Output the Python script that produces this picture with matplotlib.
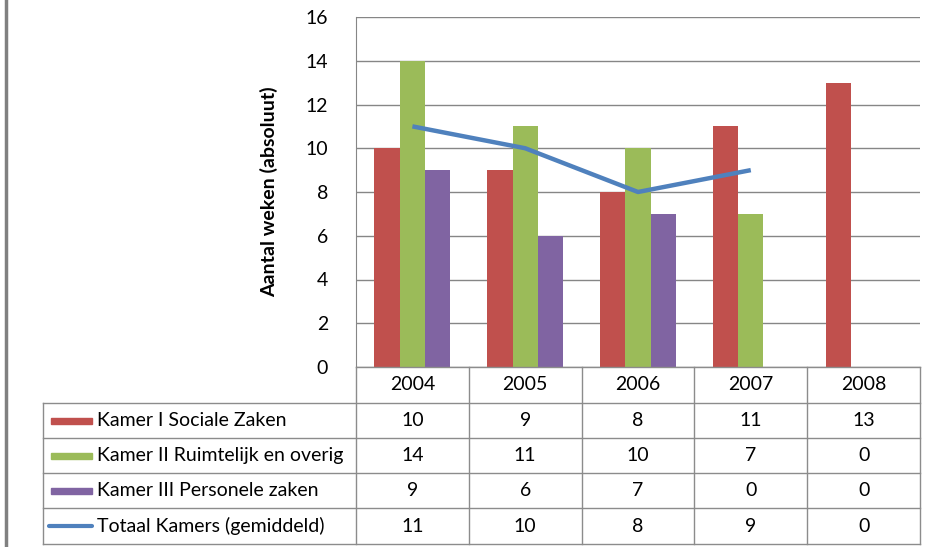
import numpy as np
import matplotlib.pyplot as plt
from matplotlib.lines import Line2D
from matplotlib.patches import Rectangle

years = ["2004", "2005", "2006", "2007", "2008"]
kamer1 = [10, 9, 8, 11, 13]
kamer2 = [14, 11, 10, 7, 0]
kamer3 = [9, 6, 7, 0, 0]
totaal = [11, 10, 8, 9, 0]
totaal_drawn = 4  # line stops at 2007

labels = ["Kamer I Sociale Zaken",
          "Kamer II Ruimtelijk en overig",
          "Kamer III Personele zaken",
          "Totaal Kamers (gemiddeld)"]
colors = ["#C0504D", "#9BBB59", "#8064A2", "#4F81BD"]

W, H = 928, 547
FS = 14
plt.rcParams['font.family'] = ['Lato', 'DejaVu Sans']

fig = plt.figure(figsize=(W / 100, H / 100), dpi=100)


def fx(x):
    return x / W


def fy(y):
    return 1 - y / H


# plot area in pixels
left, right, top, bottom = 356, 920, 17, 367
ax = fig.add_axes([fx(left), fy(bottom), fx(right - left), (bottom - top) / H])

x = np.arange(len(years))
bw = 0.225
for i, (vals, c) in enumerate(zip([kamer1, kamer2, kamer3], colors)):
    ax.bar(x + (i - 1) * bw, vals, width=bw, color=c, zorder=3)

ax.plot(x[:totaal_drawn], totaal[:totaal_drawn], color=colors[3], lw=3.2,
        zorder=4, solid_capstyle='butt')

ax.set_xlim(-0.5, len(years) - 0.5)
ax.set_ylim(0, 16)
ax.set_yticks(range(0, 17, 2))
ax.set_xticks([])
ax.tick_params(axis='y', length=0, pad=20, labelsize=FS)
ax.grid(axis='y', color='#868686', lw=1, zorder=0)
for s in ['top', 'right', 'bottom']:
    ax.spines[s].set_visible(False)
ax.spines['left'].set_color('#868686')
ax.set_ylabel("Aantal weken (absoluut)", fontsize=FS, fontweight='bold',
              labelpad=20)

# data table below the plot
gray = '#8C8C8C'
tbl_left, tbl_right = 43, 920
row_lines = [367, 403, 438, 473, 508, 544]
col_w = (right - left) / len(years)
col_lines = [left + k * col_w for k in range(len(years) + 1)]


def hline(y, x0, x1, c=gray):
    fig.add_artist(Line2D([fx(x0), fx(x1)], [fy(y), fy(y)], color=c, lw=1))


def vline(xp, y0, y1, c=gray):
    fig.add_artist(Line2D([fx(xp), fx(xp)], [fy(y0), fy(y1)], color=c, lw=1))


hline(row_lines[0], left, right)
for y in row_lines[1:]:
    hline(y, tbl_left, tbl_right)
vline(tbl_left, row_lines[1], row_lines[-1])
vline(left, row_lines[0], row_lines[-1])
for xp in col_lines[1:]:
    vline(xp, row_lines[0], row_lines[-1])

# header (years)
for k, yr in enumerate(years):
    fig.text(fx(left + (k + 0.5) * col_w), fy((row_lines[0] + row_lines[1]) / 2),
             yr, ha='center', va='center', fontsize=FS)

rows = [kamer1, kamer2, kamer3, totaal]
for r, (lab, vals, c) in enumerate(zip(labels, rows, colors)):
    yc = (row_lines[r + 1] + row_lines[r + 2]) / 2
    if r < 3:
        fig.add_artist(Rectangle((fx(51), fy(yc + 3)), fx(41), 6 / H,
                                 color=c, transform=fig.transFigure))
    else:
        fig.add_artist(Line2D([fx(49), fx(92)], [fy(yc), fy(yc)], color=c,
                              lw=3, solid_capstyle='round'))
    fig.text(fx(97), fy(yc), lab, ha='left', va='center', fontsize=FS)
    for k, v in enumerate(vals):
        fig.text(fx(left + (k + 0.5) * col_w), fy(yc), str(v),
                 ha='center', va='center', fontsize=FS)

# left frame edge
fig.add_artist(Line2D([fx(6), fx(6)], [0, 1], color='#808080', lw=2.5))

fig.savefig("out.png", dpi=100)
